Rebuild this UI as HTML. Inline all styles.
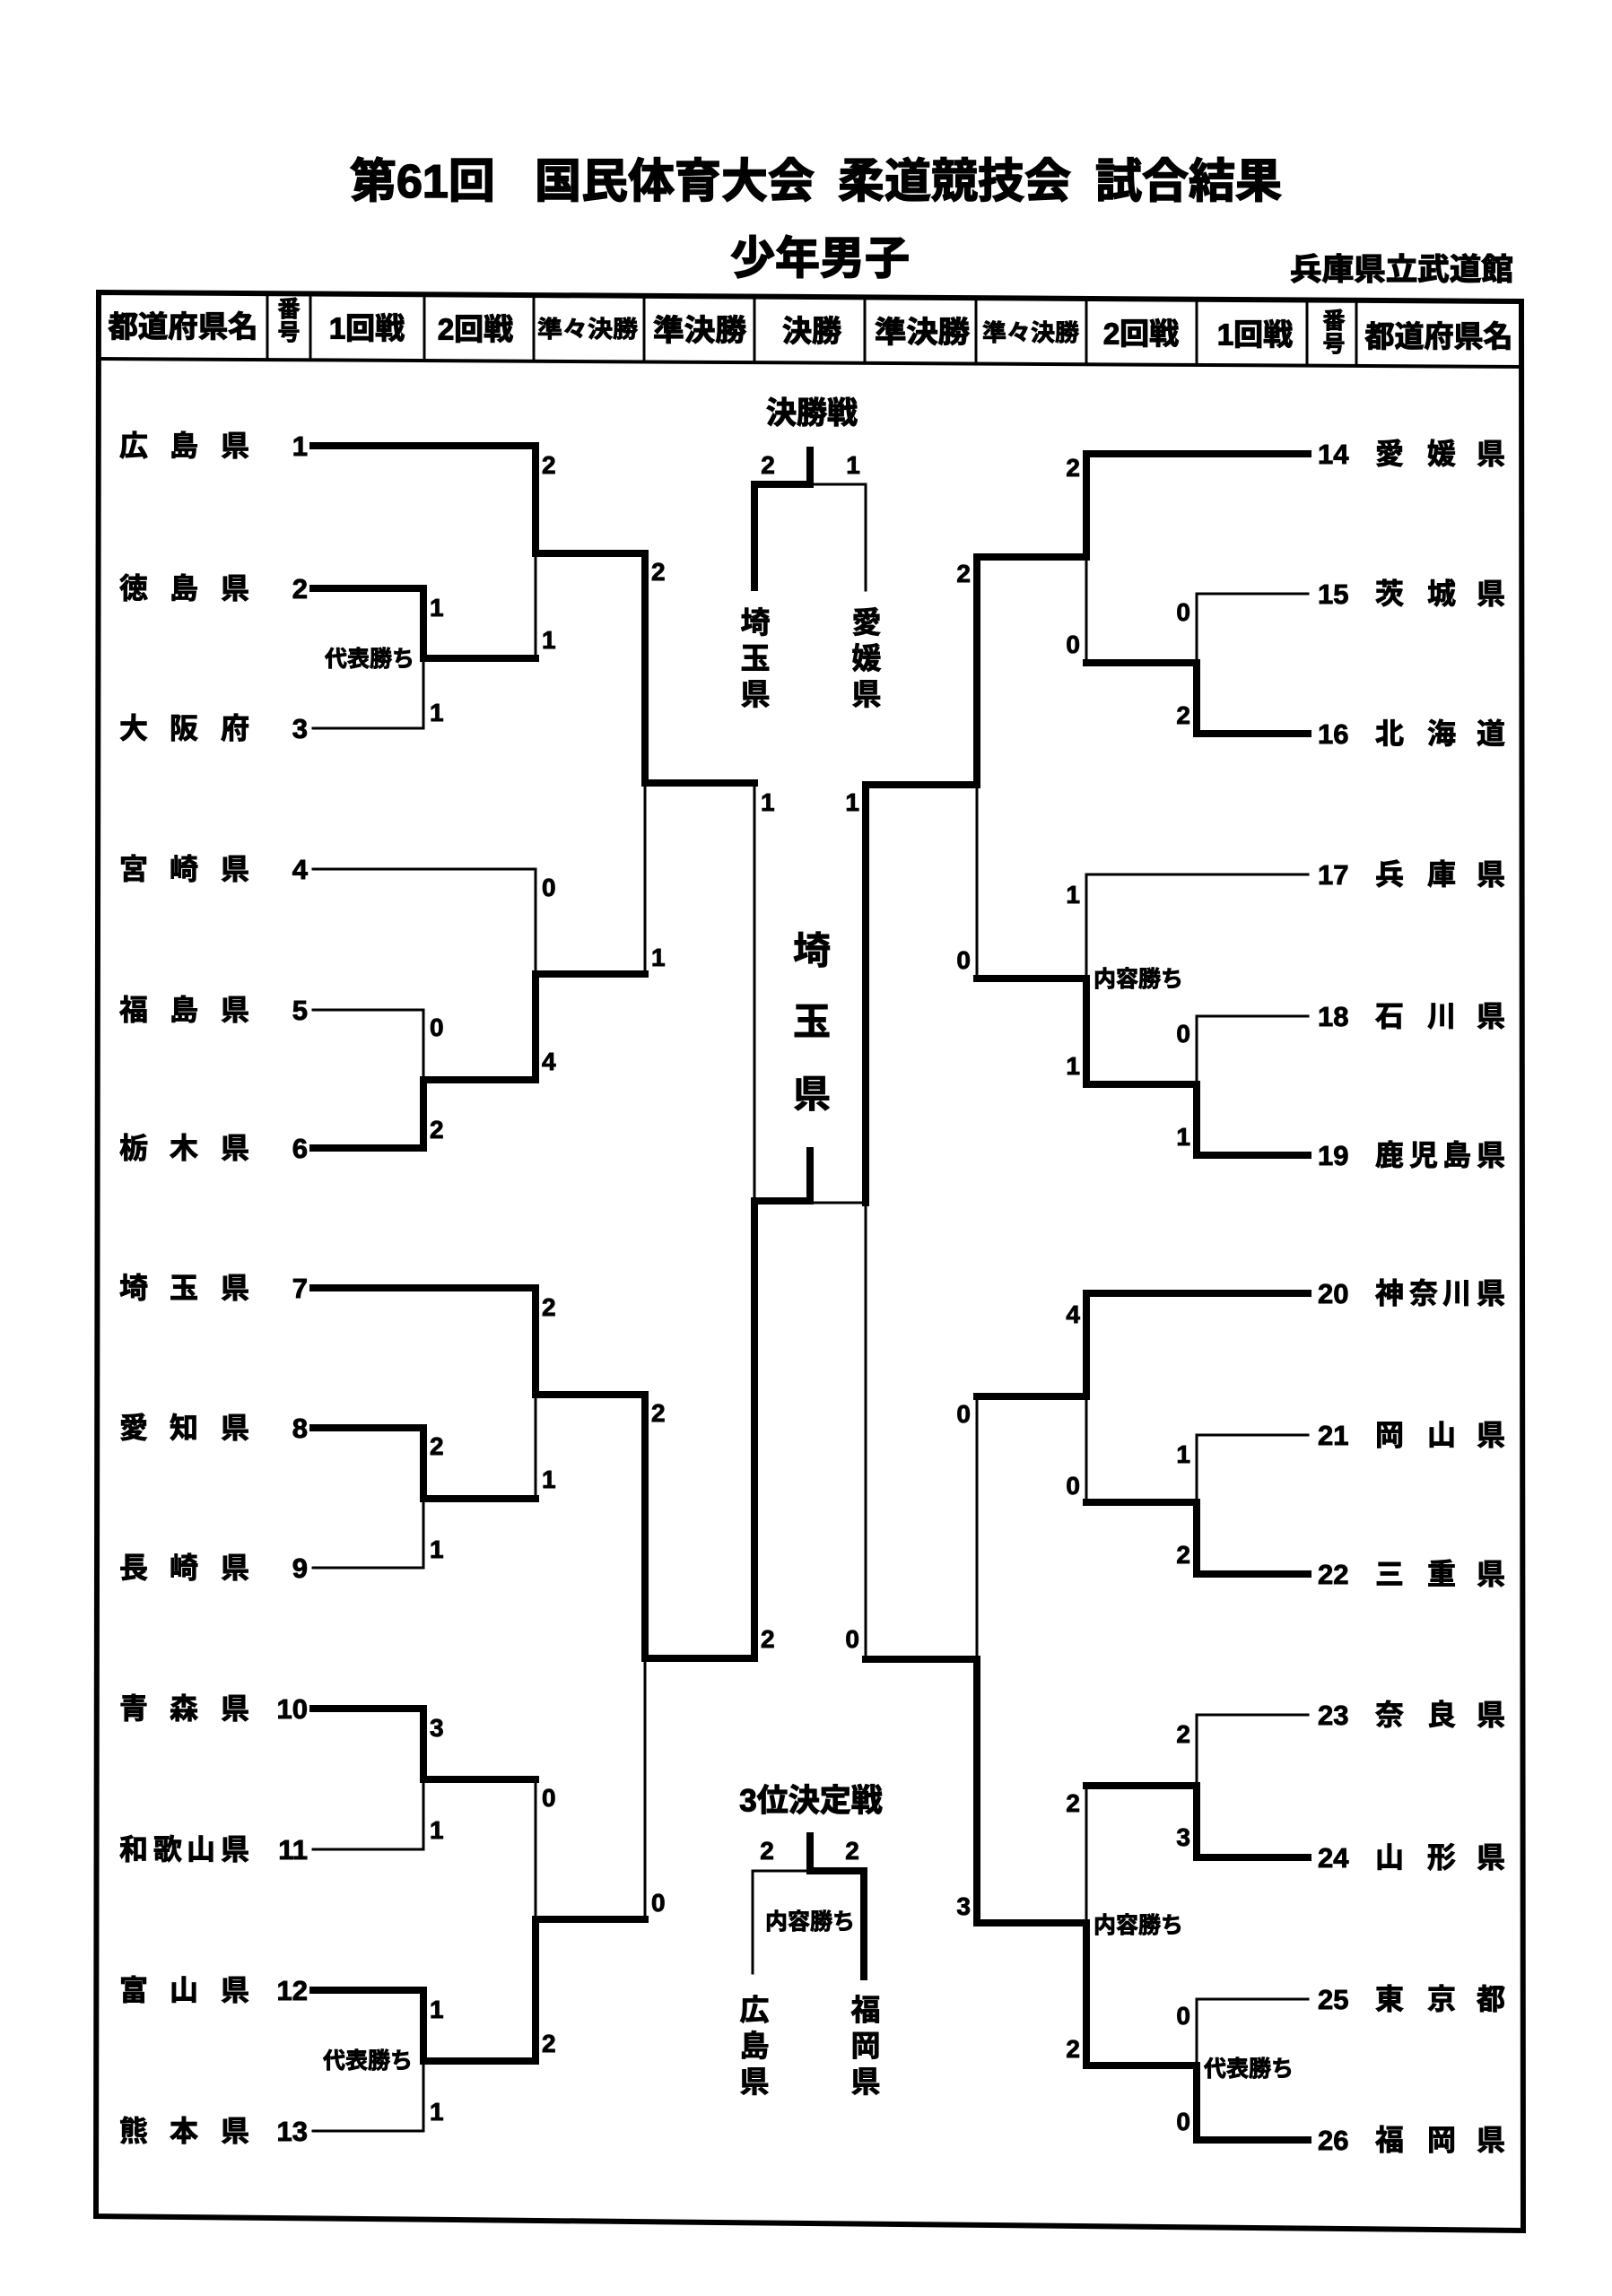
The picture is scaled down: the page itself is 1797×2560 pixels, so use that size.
<!DOCTYPE html>
<html><head><meta charset="utf-8"><style>
html,body{margin:0;padding:0;background:#fff;width:1797px;height:2560px;overflow:hidden}
svg{display:block}
text{font-family:"Liberation Sans","Noto Sans CJK JP",sans-serif;font-weight:700;fill:#000;stroke:#000;stroke-width:0.9px}
.s{font-size:28px}
.n{font-size:31px}
.nm{font-size:32px;stroke-width:1.2px}
.h{font-size:33px;stroke-width:1.2px}
.k{font-size:25px;stroke-width:0.8px}
.big{stroke-width:1.6px}
</style></head><body>
<svg width="1797" height="2560" viewBox="0 0 1797 2560" xmlns="http://www.w3.org/2000/svg">
<rect width="1797" height="2560" fill="#fff"/>

<!-- Titles -->
<g class="big">
<text x="390" y="220" font-size="52" class="big">第61回</text>
<text x="596" y="220" font-size="52" class="big">国民体育大会</text>
<text x="934" y="220" font-size="52" class="big">柔道競技会</text>
<text x="1221" y="220" font-size="52" class="big">試合結果</text>
<text x="914" y="305" font-size="50" text-anchor="middle" class="big">少年男子</text>
</g>
<text x="1438" y="312" font-size="34" textLength="249" lengthAdjust="spacingAndGlyphs" style="stroke-width:1.3px">兵庫県立武道館</text>

<!-- Frame -->
<g stroke="#000" fill="none" stroke-linecap="square">
<path d="M110 326 L1696 336 L1698 2487 L107 2471 Z" stroke-width="6"/>
<path d="M110 400 L1696 409" stroke-width="4"/>
<g stroke-width="3">
<path d="M298 327V401 M346 327V401 M473 328V402 M595 329V403 M718 330V403 M841 330V404 M964 331V405 M1088 332V406 M1211 333V406 M1334 334V407 M1457 334V408 M1512 335V408"/>
</g>
</g>

<!-- Header labels -->
<g dominant-baseline="central">
<text x="204" y="364" class="h" text-anchor="middle" textLength="167" lengthAdjust="spacingAndGlyphs">都道府県名</text>
<text x="322" y="345" font-size="25" text-anchor="middle">番</text>
<text x="322" y="371" font-size="25" text-anchor="middle">号</text>
<text x="409" y="366" class="h" text-anchor="middle">1回戦</text>
<text x="530" y="367" class="h" text-anchor="middle">2回戦</text>
<text x="655" y="367" font-size="26" text-anchor="middle" textLength="112" lengthAdjust="spacingAndGlyphs">準々決勝</text>
<text x="780" y="368" class="h" text-anchor="middle" textLength="104" lengthAdjust="spacingAndGlyphs">準決勝</text>
<text x="905" y="369" class="h" text-anchor="middle">決勝</text>
<text x="1028" y="370" class="h" text-anchor="middle" textLength="106" lengthAdjust="spacingAndGlyphs">準決勝</text>
<text x="1149" y="371" font-size="26" text-anchor="middle" textLength="108" lengthAdjust="spacingAndGlyphs">準々決勝</text>
<text x="1272" y="372" class="h" text-anchor="middle">2回戦</text>
<text x="1399" y="373" class="h" text-anchor="middle">1回戦</text>
<text x="1487" y="358" font-size="25" text-anchor="middle">番</text>
<text x="1487" y="384" font-size="25" text-anchor="middle">号</text>
<text x="1604" y="375" class="h" text-anchor="middle" textLength="165" lengthAdjust="spacingAndGlyphs">都道府県名</text>
</g>

<!-- Bracket thick lines -->
<path fill="none" stroke="#000" stroke-width="8" stroke-linecap="square" d="
M349 497H597 M349 656H472 M349 1280H472 M349 1436H597 M349 1592H472 M349 1905H472 M349 2219H472
M472 656V734 M472 734H597 M472 1204V1280 M472 1204H597 M472 1592V1671 M472 1671H597 M472 1905V1984 M472 1984H597 M472 2219V2298 M472 2298H597
M597 497V617 M597 617H719 M597 1086V1204 M597 1086H719 M597 1436V1555 M597 1555H719 M597 2140V2298 M597 2140H719
M719 617V873 M719 873H841 M719 1555V1849 M719 1849H841
M841 1339V1849 M841 1339H903 M903 1283V1339
M965 875V1341 M965 875H1089 M965 1850H1089
M1089 621V875 M1089 621H1211 M1089 1091H1211 M1089 1850V2144 M1089 1557H1211 M1089 2144H1211
M1211 506V621 M1211 739H1334 M1211 1091V1209 M1211 1209H1334 M1211 1442V1557 M1211 1675H1334 M1211 2144V2303 M1211 1991H1334 M1211 2303H1334
M1334 739V818 M1334 1209V1288 M1334 1675V1755 M1334 1991V2071 M1334 2305V2386
M1211 506H1458 M1334 818H1458 M1334 1288H1458 M1211 1442H1458 M1334 1755H1458 M1334 2071H1458 M1334 2386H1458
M903 502V540 M841 540H903 M841 540V655
M903 2047V2086 M903 2086H963 M963 2086V2204"/>

<!-- Bracket thin lines -->
<path fill="none" stroke="#000" stroke-width="3" stroke-linecap="square" d="
M349 812H472 M349 969H597 M349 1126H472 M349 1748H472 M349 2062H472 M349 2376H472
M472 734V812 M472 1126V1204 M472 1671V1748 M472 1984V2062 M472 2298V2376
M597 617V734 M597 969V1086 M597 1555V1671 M597 1984V2140
M719 873V1086 M719 1849V2140
M841 873V1339 M903 1341H965 M965 1341V1850
M1089 875V1091 M1089 1557V1850
M1211 621V739 M1211 975V1091 M1211 1557V1675 M1211 1991V2144
M1334 662V739 M1334 1133V1209 M1334 1600V1675 M1334 1912V1991 M1334 2229V2305
M1211 975H1458 M1334 662H1458 M1334 1133H1458 M1334 1600H1458 M1334 1912H1458 M1334 2229H1458
M903 540H965 M965 540V658
M839 2086H903 M839 2086V2200"/>

<!-- Left names -->
<g class="nm" dominant-baseline="central" text-anchor="middle">
<text x="149 205 262" y="497">広島県</text>
<text x="149 205 262" y="656">徳島県</text>
<text x="149 205 262" y="812">大阪府</text>
<text x="149 205 262" y="969">宮崎県</text>
<text x="149 205 262" y="1126">福島県</text>
<text x="149 205 262" y="1280">栃木県</text>
<text x="149 205 262" y="1436">埼玉県</text>
<text x="149 205 262" y="1592">愛知県</text>
<text x="149 205 262" y="1748">長崎県</text>
<text x="149 205 262" y="1905">青森県</text>
<text x="149 187 224 262" y="2062">和歌山県</text>
<text x="149 205 262" y="2219">富山県</text>
<text x="149 205 262" y="2376">熊本県</text>
</g>
<!-- Left numbers -->
<g class="n" text-anchor="end">
<text x="343" y="508">1</text>
<text x="343" y="667">2</text>
<text x="343" y="823">3</text>
<text x="343" y="980">4</text>
<text x="343" y="1137">5</text>
<text x="343" y="1291">6</text>
<text x="343" y="1447">7</text>
<text x="343" y="1603">8</text>
<text x="343" y="1759">9</text>
<text x="343" y="1916">10</text>
<text x="343" y="2073">11</text>
<text x="343" y="2230">12</text>
<text x="343" y="2387">13</text>
</g>

<!-- Right names -->
<g class="nm" dominant-baseline="central" text-anchor="middle">
<text x="1549 1607 1662" y="506">愛媛県</text>
<text x="1549 1607 1662" y="662">茨城県</text>
<text x="1549 1607 1662" y="818">北海道</text>
<text x="1549 1607 1662" y="975">兵庫県</text>
<text x="1549 1607 1662" y="1133">石川県</text>
<text x="1549 1587 1624 1662" y="1288">鹿児島県</text>
<text x="1549 1587 1624 1662" y="1442">神奈川県</text>
<text x="1549 1607 1662" y="1600">岡山県</text>
<text x="1549 1607 1662" y="1755">三重県</text>
<text x="1549 1607 1662" y="1912">奈良県</text>
<text x="1549 1607 1662" y="2071">山形県</text>
<text x="1549 1607 1662" y="2229">東京都</text>
<text x="1549 1607 1662" y="2386">福岡県</text>
</g>
<!-- Right numbers -->
<g class="n">
<text x="1469" y="517">14</text>
<text x="1469" y="673">15</text>
<text x="1469" y="829">16</text>
<text x="1469" y="986">17</text>
<text x="1469" y="1144">18</text>
<text x="1469" y="1299">19</text>
<text x="1469" y="1453">20</text>
<text x="1469" y="1611">21</text>
<text x="1469" y="1766">22</text>
<text x="1469" y="1923">23</text>
<text x="1469" y="2082">24</text>
<text x="1469" y="2240">25</text>
<text x="1469" y="2397">26</text>
</g>

<!-- Left scores -->
<g class="s">
<text x="479" y="687">1</text><text x="479" y="804">1</text>
<text x="479" y="1155">0</text><text x="479" y="1269">2</text>
<text x="479" y="1622">2</text><text x="479" y="1737">1</text>
<text x="479" y="1936">3</text><text x="479" y="2050">1</text>
<text x="479" y="2250">1</text><text x="479" y="2364">1</text>
<text x="604" y="528">2</text><text x="604" y="723">1</text>
<text x="604" y="999">0</text><text x="604" y="1193">4</text>
<text x="604" y="1467">2</text><text x="604" y="1659">1</text>
<text x="604" y="2014">0</text><text x="604" y="2288">2</text>
<text x="726" y="647">2</text><text x="726" y="1077">1</text>
<text x="726" y="1585">2</text><text x="726" y="2131">0</text>
<text x="848" y="904">1</text><text x="848" y="1837">2</text>
</g>
<!-- Right scores -->
<g class="s" text-anchor="end">
<text x="958" y="904">1</text><text x="958" y="1837">0</text>
<text x="1082" y="649">2</text><text x="1082" y="1080">0</text>
<text x="1082" y="1586">0</text><text x="1082" y="2135">3</text>
<text x="1204" y="531">2</text><text x="1204" y="728">0</text>
<text x="1204" y="1007">1</text><text x="1204" y="1198">1</text>
<text x="1204" y="1475">4</text><text x="1204" y="1666">0</text>
<text x="1204" y="2020">2</text><text x="1204" y="2294">2</text>
<text x="1327" y="692">0</text><text x="1327" y="807">2</text>
<text x="1327" y="1162">0</text><text x="1327" y="1277">1</text>
<text x="1327" y="1631">1</text><text x="1327" y="1743">2</text>
<text x="1327" y="1943">2</text><text x="1327" y="2058">3</text>
<text x="1327" y="2257">0</text><text x="1327" y="2375">0</text>
</g>

<!-- Win-type notes -->
<g class="k" dominant-baseline="central">
<text x="462" y="735" text-anchor="end">代表勝ち</text>
<text x="460" y="2298" text-anchor="end">代表勝ち</text>
<text x="1219" y="1092">内容勝ち</text>
<text x="1219" y="2147">内容勝ち</text>
<text x="1342" y="2307">代表勝ち</text>
<text x="903" y="2143" text-anchor="middle">内容勝ち</text>
</g>

<!-- Center: final -->
<text x="905" y="461" font-size="34" text-anchor="middle" dominant-baseline="central" style="stroke-width:1.2px">決勝戦</text>
<g class="s" text-anchor="middle">
<text x="856" y="528">2</text><text x="951" y="528">1</text>
<text x="855" y="2073">2</text><text x="950" y="2073">2</text>
</g>
<g font-size="33" dominant-baseline="central" text-anchor="middle" style="stroke-width:1.2px">
<text x="842" y="694">埼</text><text x="842" y="734">玉</text><text x="842" y="774">県</text>
<text x="966" y="694">愛</text><text x="966" y="734">媛</text><text x="966" y="774">県</text>
<text x="841" y="2241">広</text><text x="841" y="2281">島</text><text x="841" y="2321">県</text>
<text x="965" y="2241">福</text><text x="965" y="2281">岡</text><text x="965" y="2321">県</text>
</g>
<g font-size="42" dominant-baseline="central" text-anchor="middle" style="stroke-width:1.5px">
<text x="905" y="1060">埼</text><text x="905" y="1139">玉</text><text x="905" y="1220">県</text>
</g>
<text x="904" y="2008" font-size="35" text-anchor="middle" dominant-baseline="central" style="stroke-width:1.2px">3位決定戦</text>
</svg>
</body></html>
